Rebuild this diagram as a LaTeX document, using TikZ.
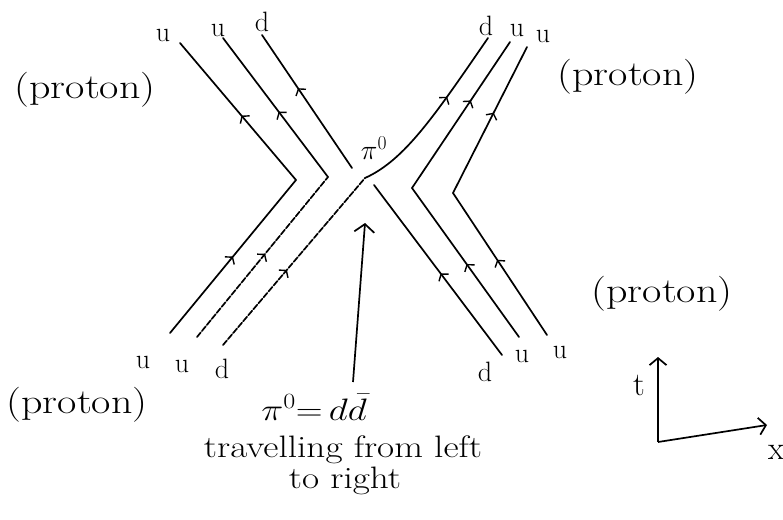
\RequirePackage{fix-cm}
\documentclass[tikz,border=0pt]{standalone}
\usetikzlibrary{arrows.meta,decorations.markings}
\newcommand{\wide}[1]{\scalebox{1.2}[1]{#1}}
\begin{document}
\begin{tikzpicture}[x=1pt,y=-1pt,
  quark/.style={line width=1.7pt, line cap=round, line join=miter},
  dsh/.style={dash pattern=on 6pt off 1.8pt},
  midarr/.style={postaction={decorate}, decoration={markings,
     mark=at position #1 with {\arrow{Straight Barb[length=4.5pt,width=12pt,line width=1.4pt]}}}},
  lbl/.style={inner sep=0pt, font=\fontsize{28}{30}\selectfont},
  axlbl/.style={inner sep=0pt, font=\fontsize{33}{36}\selectfont},
  plbl/.style={inner sep=0pt, font=\fontsize{35}{38}\selectfont},
  txt/.style={inner sep=0pt, font=\fontsize{31}{34}\selectfont},
  bigarr/.style={line width=1.7pt, -{Straight Barb[length=8pt,width=20pt,line width=1.7pt]}},
  axarr/.style={line width=1.7pt, -{Straight Barb[length=7pt,width=17pt,line width=1.7pt]}}
]
\useasboundingbox (0,0) rectangle (783,519);

% coordinates of quark lines
\coordinate (L1b) at (170,333); \coordinate (L1v) at (296,180); \coordinate (L1t) at (180,43);
\coordinate (L2b) at (197,337); \coordinate (L2v) at (328,177); \coordinate (L2t) at (223,38);
\coordinate (L3b) at (223,345); \coordinate (X) at (365,178);   \coordinate (L3t) at (488,38);
\coordinate (R1b) at (502,355); \coordinate (R1g) at (374,185); \coordinate (R1h) at (352,168); \coordinate (R1t) at (262,35);
\coordinate (R2b) at (519,337); \coordinate (R2v) at (412,188); \coordinate (R2t) at (510,42);
\coordinate (R3b) at (547,335); \coordinate (R3v) at (453,193); \coordinate (R3t) at (527,47);

% left proton
\draw[quark, midarr=0.5] (L1b) -- (L1v);
\draw[quark, midarr=0.47] (L1v) -- (L1t);
\draw[quark, dsh, midarr=0.52] (L2b) -- (L2v);
\draw[quark, midarr=0.47] (L2v) -- (L2t);
\draw[quark, dsh, midarr=0.45] (L3b) -- (X);
\draw[quark, midarr=0.62] (X) .. controls (405,160) and (435,115) .. (L3t);

% right proton
\draw[quark, midarr=0.48] (R1b) -- (R1g);
\draw[quark, midarr=0.6] (R1h) -- (R1t);
\draw[quark, midarr=0.49] (R2b) -- (R2v);
\draw[quark, midarr=0.6] (R2v) -- (R2t);
\draw[quark, midarr=0.53] (R3b) -- (R3v);
\draw[quark, midarr=0.55] (R3v) -- (R3t);

% quark labels
\node[lbl] (qa) at (163,35) {u};
\node[lbl] (qb) at (218,30) {u};
\node[lbl] (qc) at (262,22) {d};
\node[lbl] (qd) at (486,26) {d};
\node[lbl] (qe) at (517,30) {u};
\node[lbl] (qf) at (543,36) {u};
\node[lbl] (qg) at (143,362) {u};
\node[lbl] (qh) at (182,366) {u};
\node[lbl] (qi) at (222,369) {d};
\node[lbl] (qj) at (485,372) {d};
\node[lbl] (qk) at (522,356) {u};
\node[lbl] (ql) at (560,352) {u};

% proton labels
\node[plbl] (p1) at (85,90) {\wide{(proton)}};
\node[plbl] (p2) at (628,77) {\wide{(proton)}};
\node[plbl] (p3) at (662,294) {\wide{(proton)}};
\node[plbl] (p4) at (77,405) {\wide{(proton)}};

% pion
\node[lbl] (pi) at (374,148) {$\pi^0$};
\coordinate (Ab) at (353,382);
\coordinate (At) at (365,223);
\draw[bigarr] (Ab) -- (At);
\node[txt, anchor=base] (t1) at (314,420) {\wide{$\pi^0{=}\,d\bar{d}$}};
\node[txt, anchor=base] (t2) at (343,457) {\wide{travelling from left}};
\node[txt, anchor=base] (t3) at (345,488) {\wide{to right}};

% axes
\coordinate (O) at (658,442);
\coordinate (T) at (658,357);
\coordinate (Xe) at (767,425);
\draw[axarr] (O) -- (T);
\draw[axarr] (O) -- (Xe);
\node[axlbl] (tl) at (639,385) {t};
\node[axlbl] (xl) at (776,452) {x};
\end{tikzpicture}
\end{document}
